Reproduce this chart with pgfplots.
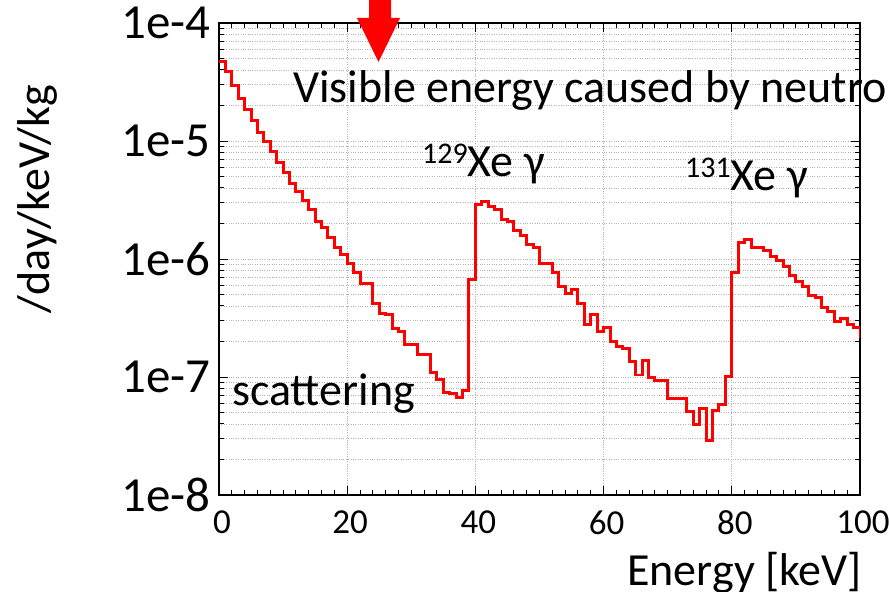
\documentclass[border=0pt]{standalone}
\usepackage{fontspec}
\setmainfont{Carlito}
\usepackage{pgfplots}
\usepackage{pgfplotstable}
\pgfplotsset{compat=1.18}
\pgfplotstableread{
x y
0 4.7e-5
1 3.87e-5
2 2.96e-5
3 2.30e-5
4 1.84e-5
5 1.48e-5
6 1.19e-5
7 9.87e-6
8 8.2e-6
9 6.6e-6
10 5.4e-6
11 4.35e-6
12 3.72e-6
13 3.14e-6
14 2.62e-6
15 2.07e-6
16 1.84e-6
17 1.53e-6
18 1.26e-6
19 1.10e-6
20 9.2e-7
21 7.66e-7
22 6.18e-7
23 6.18e-7
24 4.18e-7
25 3.47e-7
26 3.4e-7
27 2.6e-7
28 2.45e-7
29 1.89e-7
30 1.89e-7
31 1.56e-7
32 1.56e-7
33 1.09e-7
34 9.55e-8
35 7.46e-8
36 7.27e-8
37 6.76e-8
38 7.7e-8
39 6.73e-7
40 2.91e-6
41 3.06e-6
42 2.81e-6
43 2.64e-6
44 2.15e-6
45 2.07e-6
46 1.73e-6
47 1.57e-6
48 1.33e-6
49 1.25e-6
50 9.1e-7
51 9.1e-7
52 7.66e-7
53 5.9e-7
54 5.08e-7
55 5.53e-7
56 4.18e-7
57 2.76e-7
58 3.4e-7
59 2.45e-7
60 2.62e-7
61 1.99e-7
62 1.83e-7
63 1.75e-7
64 1.35e-7
65 1.04e-7
66 1.37e-7
67 9.87e-8
68 9.4e-8
69 9.4e-8
70 6.6e-8
71 6.6e-8
72 6.6e-8
73 5.15e-8
74 3.98e-8
75 5.38e-8
76 2.92e-8
77 5.22e-8
78 5.8e-8
79 1.01e-7
80 7.66e-7
81 1.37e-6
82 1.47e-6
83 1.26e-6
84 1.26e-6
85 1.19e-6
86 1.06e-6
87 9.75e-7
88 8.6e-7
89 7.18e-7
90 6.43e-7
91 5.87e-7
92 4.92e-7
93 4.7e-7
94 3.87e-7
95 3.56e-7
96 2.98e-7
97 3.14e-7
98 2.76e-7
99 2.62e-7
100 2.15e-7
}\datatable
\begin{document}
\begin{tikzpicture}
\clip (0bp,0bp) rectangle (889bp,592bp);
\begin{axis}[
  at={(219bp,97bp)}, anchor=south west, scale only axis,
  width=641bp, height=472bp,
  ymode=log, xmin=0, xmax=100, ymin=1e-8, ymax=1e-4,
  xtick={0,20,40,60,80,100}, xticklabels={0,20,40,60,80,100},
  minor x tick num=9,
  ytick={1e-8,1e-7,1e-6,1e-5,1e-4},
  yticklabels={1e-8,1e-7,1e-6,1e-5,1e-4},
  minor ytick={2e-8,3e-8,4e-8,5e-8,6e-8,7e-8,8e-8,9e-8,
               2e-7,3e-7,4e-7,5e-7,6e-7,7e-7,8e-7,9e-7,
               2e-6,3e-6,4e-6,5e-6,6e-6,7e-6,8e-6,9e-6,
               2e-5,3e-5,4e-5,5e-5,6e-5,7e-5,8e-5,9e-5},
  tick align=inside, major tick length=9bp, minor tick length=5bp,
  tick style={black, line width=1pt},
  axis line style={black, line width=1.6pt},
  xmajorgrids, ymajorgrids, yminorgrids,
  major grid style={gray!60, dotted, line width=0.8pt},
  minor grid style={gray!60, dotted, line width=0.8pt},
  xticklabel style={font=\fontsize{35bp}{40bp}\selectfont, yshift=-12bp, xshift=3bp},
  yticklabel style={font=\fontsize{49bp}{55bp}\selectfont, xshift=-5bp},
  /pgf/number format/assume math mode=true,
]
\addplot[const plot mark left, red, line width=3pt, no marks] table[x=x,y=y]{\datatable};
\end{axis}
\begin{scope}[x=1bp,y=1bp]
\fill[red] (369,592) -- (391,592) -- (391,574) -- (400,574) -- (378.5,530) -- (357,574) -- (369,574) -- cycle;
\node[anchor=base west, inner sep=0pt, font=\fontsize{46bp}{55bp}\selectfont] at (293,489) {Visible energy caused by neutron};
\node[anchor=base west, inner sep=0pt, font=\fontsize{46bp}{55bp}\selectfont] at (422,415) {\raisebox{13bp}{\fontsize{30bp}{36bp}\selectfont 129}Xe γ};
\node[anchor=base west, inner sep=0pt, font=\fontsize{46bp}{55bp}\selectfont] at (685,401) {\raisebox{13bp}{\fontsize{30bp}{36bp}\selectfont 131}Xe γ};
\node[anchor=base west, inner sep=0pt, font=\fontsize{46bp}{55bp}\selectfont] at (232,187) {scattering};
\node[anchor=base east, inner sep=0pt, font=\fontsize{46bp}{55bp}\selectfont] at (862,7) {Energy [keV]};
\node[rotate=90, anchor=center, inner sep=0pt, font=\fontsize{46bp}{55bp}\selectfont] at (37,393) {/day/keV/kg};
\end{scope}
\end{tikzpicture}
\end{document}
